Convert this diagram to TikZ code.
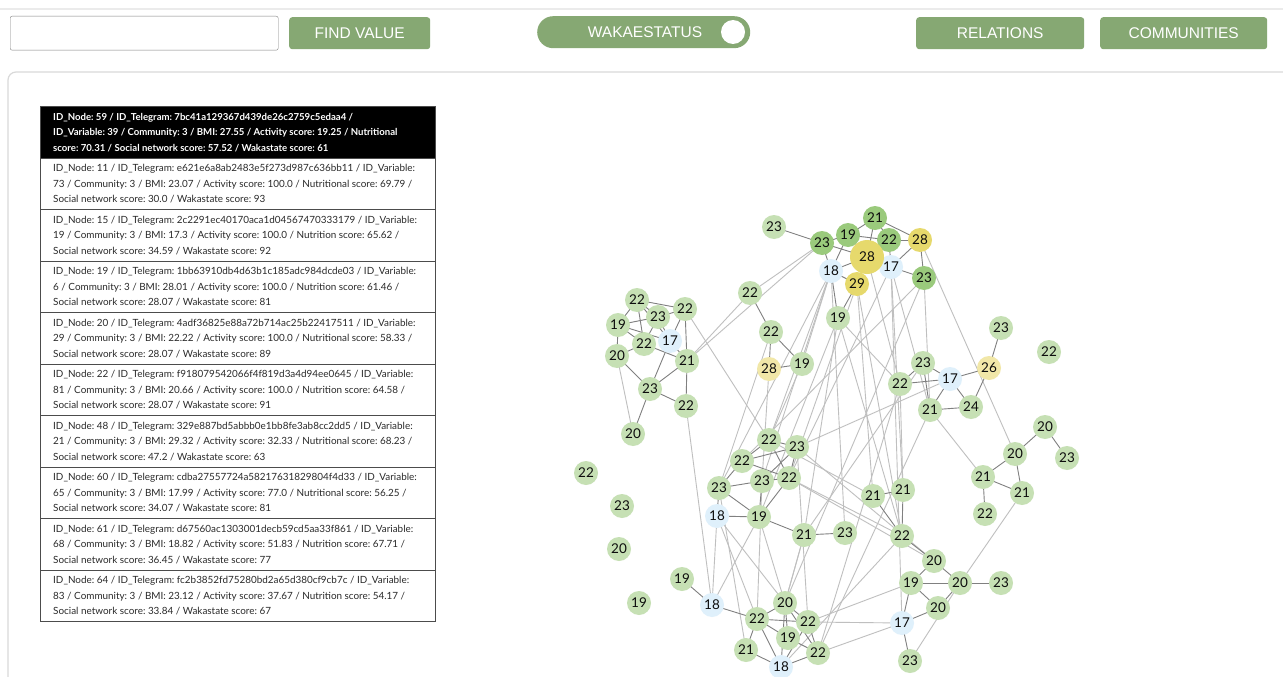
\documentclass[tikz,border=0pt]{standalone}
\usepackage{fontspec}
\setmainfont{Lato}
\newfontfamily\btnfont{Liberation Sans}
\pgfdeclarelayer{bg}
\pgfsetlayers{bg,main}
\definecolor{btn}{HTML}{86A873}
\definecolor{lgn}{HTML}{C6E0B4}
\definecolor{dgn}{HTML}{9ACA7C}
\definecolor{yel}{HTML}{E6D96C}
\definecolor{lyel}{HTML}{F1E7A8}
\definecolor{lblu}{HTML}{DFF0FB}
\definecolor{rowtxt}{HTML}{2A2A2A}
\tikzset{
  gn/.style={circle, fill=lgn, minimum size=24, inner sep=0, font=\fontsize{13.5}{13.5}\selectfont, text=black!95},
  gd/.style={gn, fill=dgn},
  gy/.style={gn, fill=yel},
  gly/.style={gn, fill=lyel},
  gb/.style={gn, fill=lblu},
  gbig/.style={gn, fill=yel, minimum size=34},
  el/.style={draw=black!25, line width=0.9},
  es/.style={draw=black!50, line width=0.9},
  btnbox/.style={fill=btn, rounded corners=3, text=white, font=\btnfont\fontsize{15.5}{15.5}\selectfont, inner sep=0},
  rowbox/.style={draw=black!70, line width=0.9, anchor=north west, minimum width=395, minimum height=51.5, inner sep=0},
  rowtext/.style={anchor=west, inner sep=0, align=left, font=\frenchspacing\fontsize{9.9}{15.5}\selectfont, text=rowtxt},
}
\begin{document}
\begin{tikzpicture}[x=1pt,y=-1pt]
\useasboundingbox (0,0) rectangle (1283,677);
\begin{pgfonlayer}{bg}
\fill[white] (0,0) rectangle (1283,677);
\end{pgfonlayer}
% header
\draw[black!8, line width=2] (0,9) -- (1283,9);
\draw[black!15, line width=1.2, rounded corners=8] (8,677) -- (8,72) -- (1283,72);
\node[draw=black!50, rounded corners=2, minimum width=268, minimum height=34, anchor=north west, inner sep=0] (search) at (10,16) {};
\node[btnbox, minimum width=141, minimum height=32, anchor=north west] (find) at (289,17) {FIND VALUE};
\node[btnbox, rounded corners=16, minimum width=213, minimum height=32, anchor=north west] (waka) at (537,16) {};
\node[font=\btnfont\fontsize{15.5}{15.5}\selectfont, text=white, inner sep=0] (wakat) at (645,32) {WAKAESTATUS};
\node[circle, fill=white, minimum size=24, inner sep=0] (knob) at (733,32) {};
\node[btnbox, minimum width=168, minimum height=32, anchor=north west] (rel) at (916,17) {RELATIONS};
\node[btnbox, minimum width=167, minimum height=32, anchor=north west] (comm) at (1100,17) {COMMUNITIES};
% table
\node[rowbox, fill=black] (r1) at (40,106) {};
\node[rowbox] (r2) at (40,157.5) {};
\node[rowbox] (r3) at (40,209) {};
\node[rowbox] (r4) at (40,260.5) {};
\node[rowbox] (r5) at (40,312) {};
\node[rowbox] (r6) at (40,363.5) {};
\node[rowbox] (r7) at (40,415) {};
\node[rowbox] (r8) at (40,466.5) {};
\node[rowbox] (r9) at (40,518) {};
\node[rowbox] (r10) at (40,569.5) {};
\node[rowtext, text=white, font=\frenchspacing\bfseries\fontsize{9.6}{15.5}\selectfont] (t1) at ([xshift=13]r1.west) {ID\_Node: 59 / ID\_Telegram: 7bc41a129367d439de26c2759c5edaa4 /\\ID\_Variable: 39 / Community: 3 / BMI: 27.55 / Activity score: 19.25 / Nutritional\\score: 70.31 / Social network score: 57.52 / Wakastate score: 61};
\node[rowtext] (t2) at ([xshift=13]r2.west) {ID\_Node: 11 / ID\_Telegram: e621e6a8ab2483e5f273d987c636bb11 / ID\_Variable:\\73 / Community: 3 / BMI: 23.07 / Activity score: 100.0 / Nutritional score: 69.79 /\\Social network score: 30.0 / Wakastate score: 93};
\node[rowtext] (t3) at ([xshift=13]r3.west) {ID\_Node: 15 / ID\_Telegram: 2c2291ec40170aca1d04567470333179 / ID\_Variable:\\19 / Community: 3 / BMI: 17.3 / Activity score: 100.0 / Nutrition score: 65.62 /\\Social network score: 34.59 / Wakastate score: 92};
\node[rowtext] (t4) at ([xshift=13]r4.west) {ID\_Node: 19 / ID\_Telegram: 1bb63910db4d63b1c185adc984dcde03 / ID\_Variable:\\6 / Community: 3 / BMI: 28.01 / Activity score: 100.0 / Nutrition score: 61.46 /\\Social network score: 28.07 / Wakastate score: 81};
\node[rowtext] (t5) at ([xshift=13]r5.west) {ID\_Node: 20 / ID\_Telegram: 4adf36825e88a72b714ac25b22417511 / ID\_Variable:\\29 / Community: 3 / BMI: 22.22 / Activity score: 100.0 / Nutritional score: 58.33 /\\Social network score: 28.07 / Wakastate score: 89};
\node[rowtext] (t6) at ([xshift=13]r6.west) {ID\_Node: 22 / ID\_Telegram: f918079542066f4f819d3a4d94ee0645 / ID\_Variable:\\81 / Community: 3 / BMI: 20.66 / Activity score: 100.0 / Nutrition score: 64.58 /\\Social network score: 28.07 / Wakastate score: 91};
\node[rowtext] (t7) at ([xshift=13]r7.west) {ID\_Node: 48 / ID\_Telegram: 329e887bd5abbb0e1bb8fe3ab8cc2dd5 / ID\_Variable:\\21 / Community: 3 / BMI: 29.32 / Activity score: 32.33 / Nutritional score: 68.23 /\\Social network score: 47.2 / Wakastate score: 63};
\node[rowtext] (t8) at ([xshift=13]r8.west) {ID\_Node: 60 / ID\_Telegram: cdba27557724a58217631829804f4d33 / ID\_Variable:\\65 / Community: 3 / BMI: 17.99 / Activity score: 77.0 / Nutritional score: 56.25 /\\Social network score: 34.07 / Wakastate score: 81};
\node[rowtext] (t9) at ([xshift=13]r9.west) {ID\_Node: 61 / ID\_Telegram: d67560ac1303001decb59cd5aa33f861 / ID\_Variable:\\68 / Community: 3 / BMI: 18.82 / Activity score: 51.83 / Nutrition score: 67.71 /\\Social network score: 36.45 / Wakastate score: 77};
\node[rowtext] (t10) at ([xshift=13]r10.west) {ID\_Node: 64 / ID\_Telegram: fc2b3852fd75280bd2a65d380cf9cb7c / ID\_Variable:\\83 / Community: 3 / BMI: 23.12 / Activity score: 37.67 / Nutrition score: 54.17 /\\Social network score: 33.84 / Wakastate score: 67};
% graph nodes
\node[gn] (a1) at (774,227) {23};
\node[gd] (a2) at (822,243) {23};
\node[gd] (a3) at (848,235) {19};
\node[gd] (a4) at (875,218) {21};
\node[gd] (a5) at (889,240) {22};
\node[gy] (a7) at (920,240) {28};
\node[gb] (a8) at (831,271) {18};
\node[gb] (a9) at (891,267) {17};
\node[gy] (a10) at (857,284) {29};
\node[gd] (a11) at (924,278) {23};
\node[gbig] (a6) at (867,257) {28};
\node[gn] (a12) at (750,293) {22};
\node[gn] (a13) at (838,318) {19};
\node[gn] (b1) at (637,300) {22};
\node[gn] (b2) at (685,309) {22};
\node[gn] (b3) at (658,317) {23};
\node[gn] (b4) at (618,325) {19};
\node[gn] (b5) at (644,344) {22};
\node[gb] (b6) at (670,341) {17};
\node[gn] (b7) at (617,356) {20};
\node[gn] (b8) at (687,361) {21};
\node[gn] (b9) at (650,389) {23};
\node[gn] (b10) at (686,406) {22};
\node[gn] (b11) at (633,434) {20};
\node[gn] (c1) at (771,332) {22};
\node[gly] (c2) at (769,369) {28};
\node[gn] (c3) at (802,364) {19};
\node[gn] (d1) at (923,363) {23};
\node[gn] (d2) at (900,384) {22};
\node[gb] (d3) at (950,379) {17};
\node[gly] (d4) at (989,368) {26};
\node[gn] (d5) at (1001,328) {23};
\node[gn] (d6) at (971,407) {24};
\node[gn] (d7) at (930,410) {21};
\node[gn] (d8) at (1049,352) {22};
\node[gn] (e1) at (586,473) {22};
\node[gn] (e2) at (622,506) {23};
\node[gn] (e3) at (619,549) {20};
\node[gn] (e4) at (639,603) {19};
\node[gn] (f1) at (769,440) {22};
\node[gn] (f2) at (797,447) {23};
\node[gn] (f3) at (742,461) {22};
\node[gn] (f4) at (762,481) {23};
\node[gn] (f5) at (789,478) {22};
\node[gn] (f6) at (719,488) {23};
\node[gb] (f7) at (717,516) {18};
\node[gn] (f8) at (759,517) {19};
\node[gn] (f9) at (804,535) {21};
\node[gn] (f10) at (845,533) {23};
\node[gn] (g1) at (873,496) {21};
\node[gn] (g2) at (903,490) {21};
\node[gn] (g3) at (902,536) {22};
\node[gn] (g4) at (934,561) {20};
\node[gn] (g5) at (911,583) {19};
\node[gn] (g6) at (960,583) {20};
\node[gn] (g7) at (1001,583) {23};
\node[gn] (g8) at (938,608) {20};
\node[gb] (g9) at (902,623) {17};
\node[gn] (g10) at (910,661) {23};
\node[gn] (h1) at (1045,427) {20};
\node[gn] (h2) at (1067,458) {23};
\node[gn] (h3) at (1015,454) {20};
\node[gn] (h4) at (983,477) {21};
\node[gn] (h5) at (1022,493) {21};
\node[gn] (h6) at (985,514) {22};
\node[gn] (i1) at (682,579) {19};
\node[gb] (i2) at (712,605) {18};
\node[gn] (i3) at (785,603) {20};
\node[gn] (i4) at (757,619) {22};
\node[gn] (i5) at (808,622) {22};
\node[gn] (i6) at (788,638) {19};
\node[gn] (i7) at (746,650) {21};
\node[gn] (i8) at (818,653) {22};
\node[gb] (i9) at (781,667) {18};
% edges
\begin{pgfonlayer}{bg}
\foreach \u/\v in {a2/a12,a12/b8,a2/b8,c3/a8,b2/f1,b10/i2,b11/b7,
  a8/f4,a8/f1,a13/f8,a13/f9,a13/g3,a10/f5,a10/g3,a9/g2,a9/g9,a9/f5,a6/d2,a8/f6,c3/f1,c1/f6,a11/d7,a7/h3,a11/f3,d3/f2,
  f5/g3,f5/g4,f2/g4,i5/g5,i5/g9,i8/g9,i8/d7,i3/a11,i3/f9,f7/i3,f7/i4,f8/i2,f7/i2,f8/i3,g6/h5,d7/h4,g10/g6,
  f4/i4,f9/i3,c2/f4,a13/d2,d1/f9,g2/d2,a9/d7,f2/i5,f10/a8,d2/i8,g3/i9,f6/i7,f1/g1,a10/g1}
  \draw[el] (\u.center) -- (\v.center);
\foreach \u/\v in {a1/a2,a2/a3,a2/a6,a3/a4,a3/a5,a3/a6,a4/a5,a4/a7,a4/a6,a5/a7,a5/a9,a5/a6,a6/a8,a6/a9,a6/a10,a7/a9,a7/a11,a9/a11,a8/a10,a8/a13,a10/a13,a3/a8,a2/a8,
  b1/b3,b1/b2,b1/b4,b1/b5,b1/b6,b3/b2,b3/b4,b3/b5,b3/b6,b4/b5,b4/b6,b4/b7,b5/b7,b5/b8,b2/b8,b2/b6,b6/b9,b6/b8,b7/b9,b9/b8,b9/b10,b8/b10,b9/b11,
  c1/c2,c1/c3,c2/c3,a12/c1,
  f1/f2,f1/f3,f1/f5,f3/f2,f3/f6,f3/f5,f4/f5,f4/f6,f4/f2,f4/f8,f5/f8,f5/f2,f6/f7,f6/f8,f7/f8,f8/f9,f9/f10,
  i1/i2,i2/i4,i3/i4,i3/i5,i3/i6,i3/i9,i4/i5,i4/i6,i4/i9,i4/i7,i6/i8,i5/i8,i7/i9,i8/i9,i3/i8,i5/i9,
  g1/g2,g1/g3,g3/g4,g4/g5,g4/g6,g5/g6,g5/g8,g6/g7,g6/g8,g8/g9,g5/g9,g9/g10,g2/g3,
  h1/h3,h1/h2,h3/h4,h3/h5,h4/h5,h4/h6,
  d1/d2,d1/d3,d1/d7,d2/d3,d3/d4,d3/d6,d3/d7,d7/d6,d4/d6,d4/d5}
  \draw[es] (\u.center) -- (\v.center);
\end{pgfonlayer}
\end{tikzpicture}
\end{document}
